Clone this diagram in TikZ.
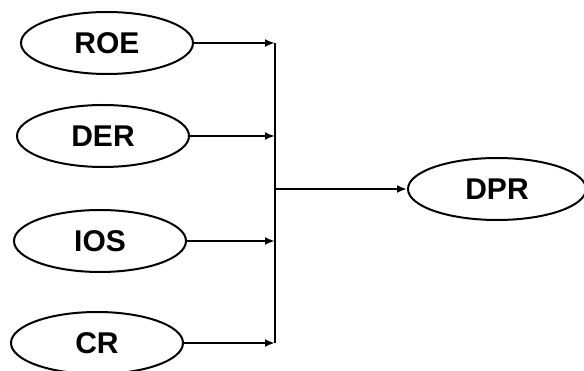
\documentclass[tikz,border=0pt]{standalone}
\usepackage{fontspec}
\setmainfont{Liberation Sans}
\usetikzlibrary{shapes.geometric, arrows.meta, positioning}

\begin{document}
\begin{tikzpicture}[x=1pt, y=-1pt, node distance = 32pt and 2cm,
    var/.style = {ellipse, draw, line width=2pt, inner sep=0pt, minimum width=172pt, minimum height=62pt, font=\bfseries\fontsize{30}{30}\selectfont},
    link/.style = {line width=2.2pt, -{Latex[length=10pt, width=8pt]}}]
    \useasboundingbox (0,0) rectangle (584,371);
    % variabili
    \node[var] (roe) at (107,43){ROE};
    \node[var] (der)[below = 29pt of roe, xshift=-4pt]{DER};
    \node[var] (ios)[below = 41pt of der, xshift=-3pt]{IOS};
    \node[var] (cr)[below = 38pt of ios, xshift=-3pt]{CR};
    \node[var, minimum width=178pt] (dpr) at (497,189){DPR};
    \coordinate (bar) at (275,0);
    \draw[link] (roe) -- (roe -| bar);
    \draw[link] (der) -- (der -| bar);
    \draw[link] (ios) -- (ios -| bar);
    \draw[link] (cr) -- (cr -| bar);
    \draw[line width=2.2pt] (roe -| bar) -- (cr -| bar);
    \draw[link] (dpr -| bar) -- (dpr);
\end{tikzpicture}
\end{document}
